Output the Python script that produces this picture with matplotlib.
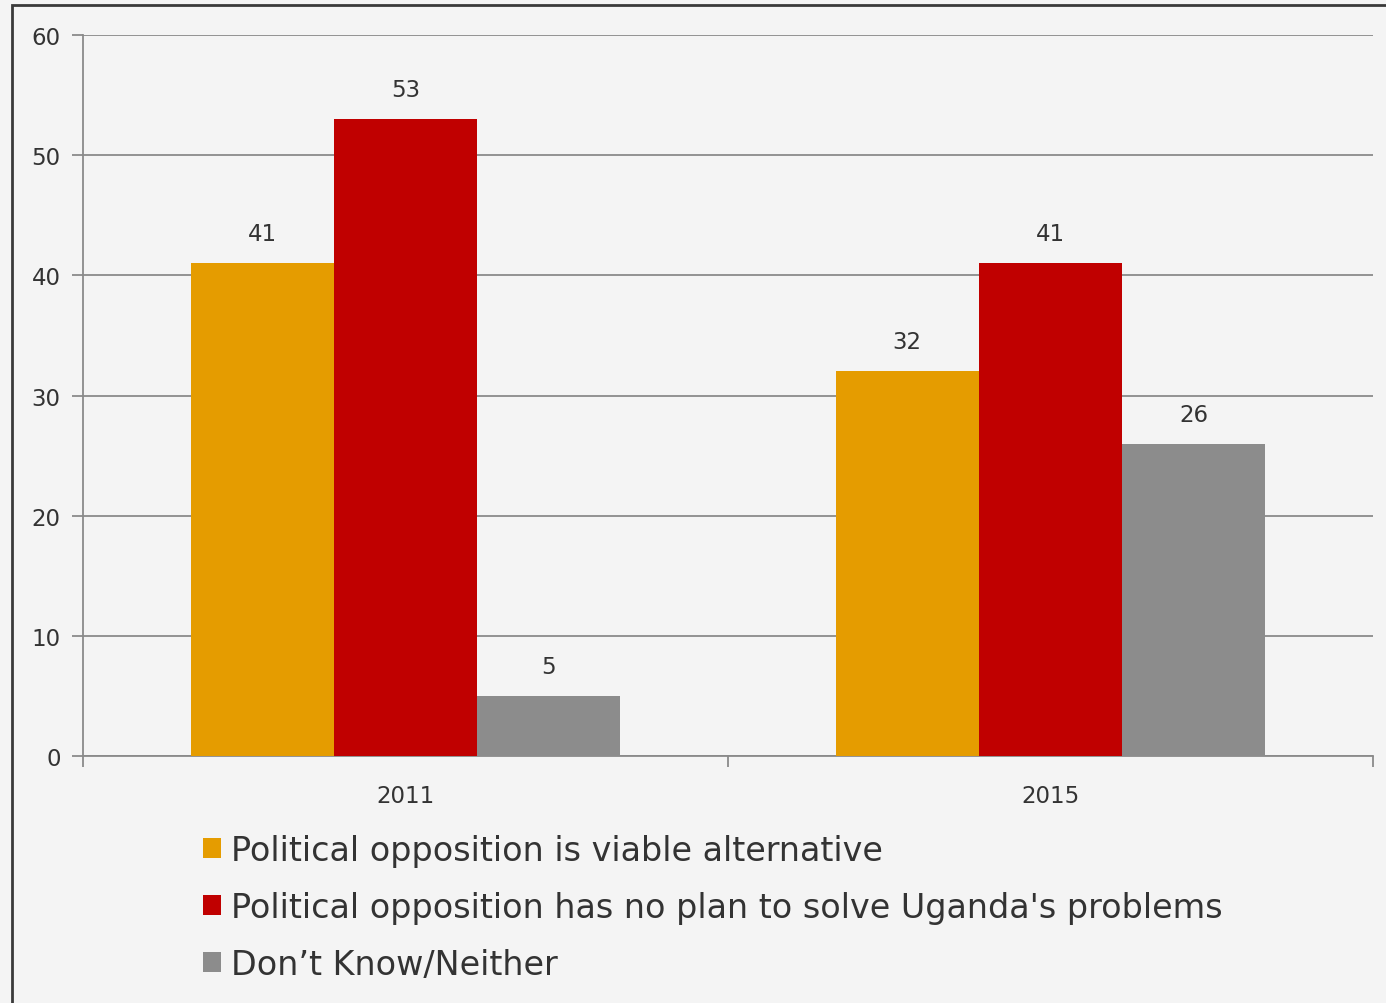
import numpy as np
import matplotlib
matplotlib.use('Agg')
import matplotlib.pyplot as plt
from matplotlib.patches import Rectangle

years = ['2011', '2015']
series = [
    'Political opposition is viable alternative',
    "Political opposition has no plan to solve Uganda's problems",
    'Don\u2019t Know/Neither',
]
viable = [41, 32]
no_plan = [53, 41]
dont_know = [5, 26]
colors = ['#e59c00', '#c00000', '#8c8c8c']

plt.rcParams['font.family'] = ['DejaVu Sans']
text_col = '#333333'
grid_col = '#8a8a8a'

fig = plt.figure(figsize=(13.86, 10.04), dpi=100)
fig.patch.set_facecolor('#f4f4f4')
ax = fig.add_axes([0.0599, 0.246, 0.9307, 0.7181])
ax.set_facecolor('none')

# outer frame, partly running off the canvas
fig.add_artist(Rectangle((12 / 1386, -0.05), 1.1, 1 - 6 / 1004 + 0.05,
                         transform=fig.transFigure, fill=False,
                         ec='#3a3a3a', lw=2.0))

x = np.arange(len(years))
w = 0.222
for i, (vals, c) in enumerate(zip([viable, no_plan, dont_know], colors)):
    bars = ax.bar(x + (i - 1) * w, vals, width=w, color=c, label=series[i], zorder=3)
    for b, v in zip(bars, vals):
        ax.text(b.get_x() + b.get_width() / 2, v + 1.5, f'{v}', ha='center', va='bottom',
                fontsize=16.5, color=text_col)

ax.set_xlim(-0.5, 1.5)
ax.set_ylim(0, 60)
ax.set_yticks(range(0, 61, 10))
ax.yaxis.grid(True, color=grid_col, lw=1.3, zorder=0)
ax.set_axisbelow(True)

for s in ['top', 'right']:
    ax.spines[s].set_visible(False)
ax.spines['left'].set_color(grid_col)
ax.spines['bottom'].set_color(grid_col)
ax.spines['left'].set_linewidth(1.3)
ax.spines['bottom'].set_linewidth(1.3)

# category labels at centres, tick marks between categories
ax.set_xticks([-0.5, 0.5, 1.5])
ax.set_xticklabels([])
ax.set_xticks(x, minor=True)
ax.set_xticklabels(years, minor=True)
ax.tick_params(axis='x', which='major', length=8, width=1.3, color=grid_col, direction='out')
ax.tick_params(axis='x', which='minor', length=0, pad=20, labelsize=16.5, labelcolor=text_col)
ax.tick_params(axis='y', length=8, width=1.3, color=grid_col, pad=8, labelsize=16.5,
               labelcolor=text_col)

leg = fig.legend(loc='upper left', bbox_to_anchor=(0.1368, 0.182), frameon=False,
                 fontsize=24, handlelength=0.55, handleheight=0.55, handletextpad=0.3,
                 labelspacing=0.72, labelcolor=text_col, borderaxespad=0)

fig.savefig('out.png', dpi=100, facecolor=fig.get_facecolor())
